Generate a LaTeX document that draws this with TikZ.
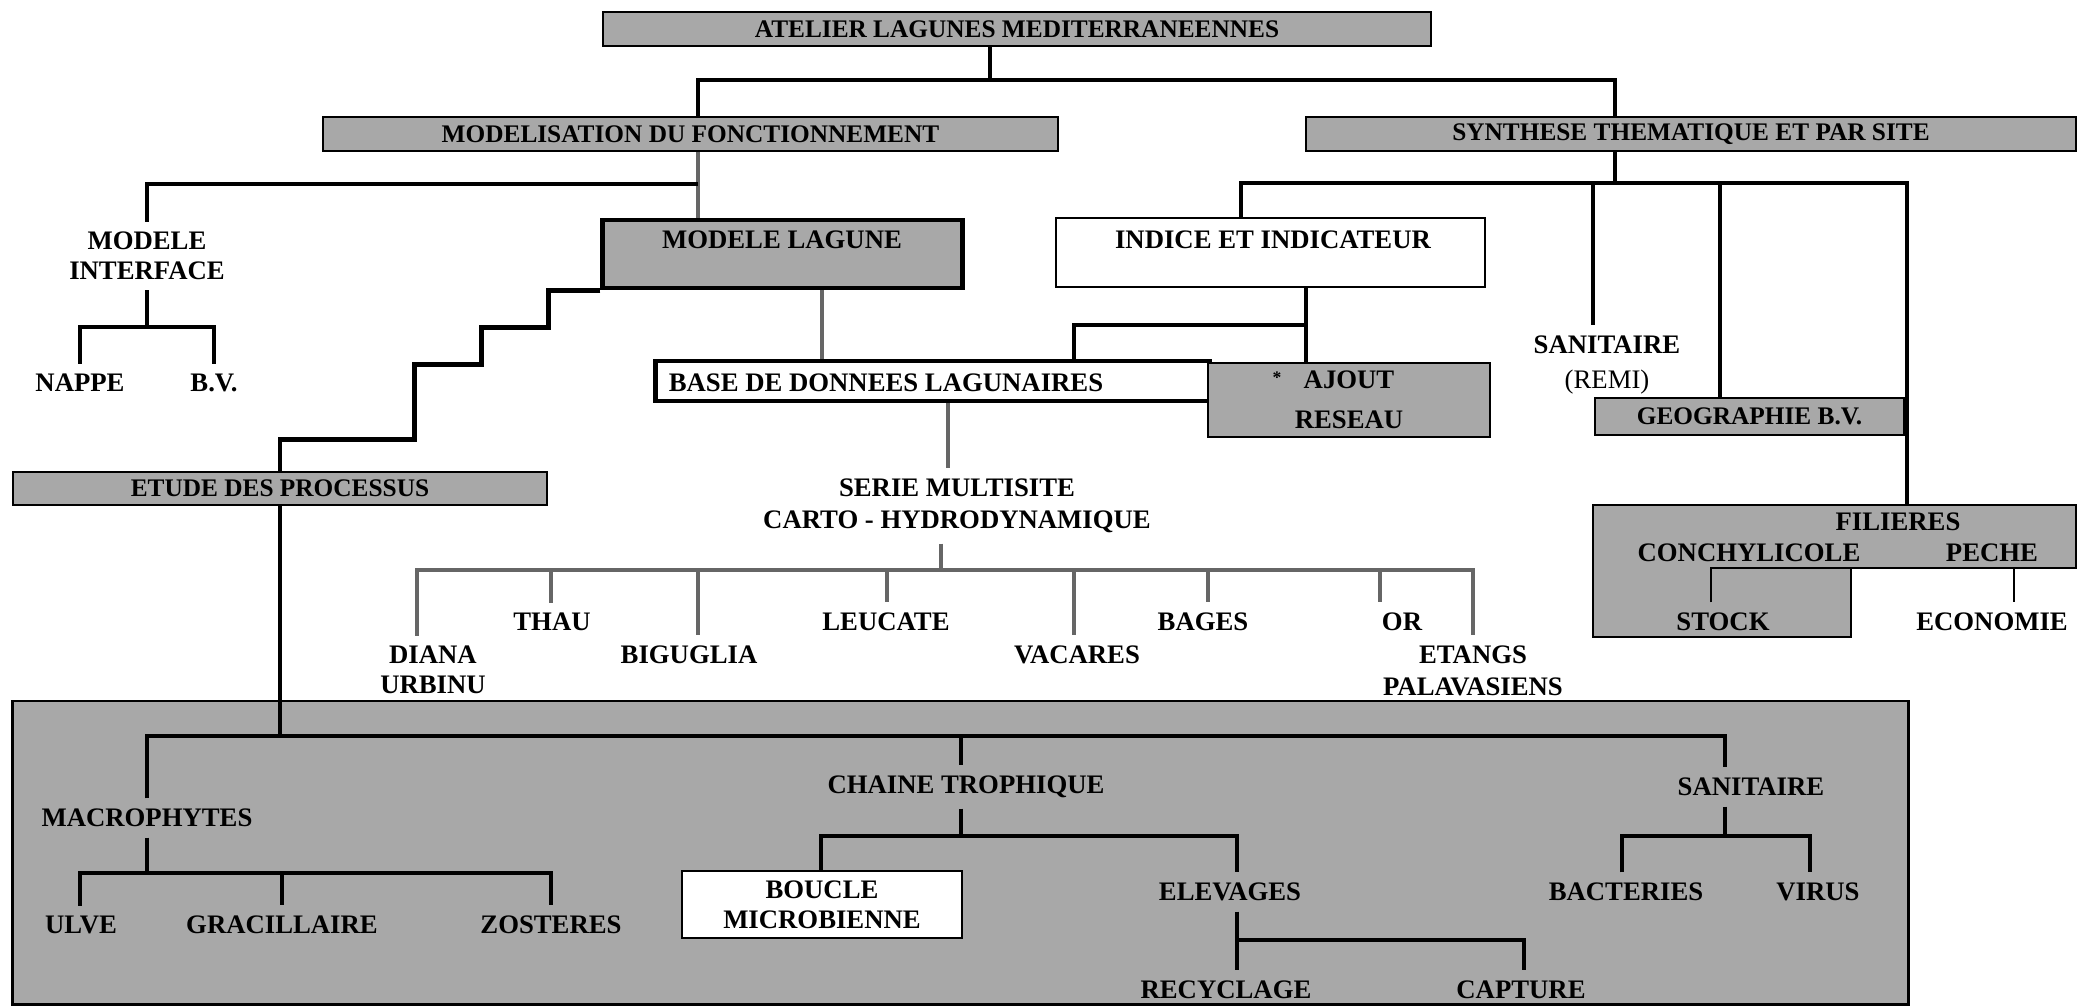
\documentclass[tikz,border=0pt]{standalone}
\usepackage{fontspec}
\setmainfont{Liberation Serif}
\definecolor{shd}{gray}{0.66}
\tikzset{
  hdr/.style={draw=black, line width=0.6pt, fill=shd, inner sep=0pt, font=\fontsize{7.2}{8.5}\selectfont\bfseries},
  boxx/.style={draw=black, line width=0.6pt, inner sep=0pt, align=center, font=\fontsize{7.6}{8.5}\selectfont\bfseries},
  lbl/.style={font=\fontsize{7.6}{8.5}\selectfont\bfseries, align=center, inner sep=2.8pt},
  conn/.style={line width=1.3pt},
  half/.style={line width=1.3pt, draw=black!60},
  thinl/.style={line width=0.5pt},
}
\begin{document}
\begin{tikzpicture}[x=0.01cm,y=-0.01cm]
\useasboundingbox (0,0) rectangle (2078,1006);

% big shaded region
\node[draw=black, line width=0.8pt, fill=shd, minimum width=18.95cm, minimum height=3.03cm, inner sep=0pt] (region) at (960.5,852.5) {};

% header boxes
\node[hdr, minimum width=8.28cm, minimum height=0.34cm] (atelier) at (1017,29) {ATELIER LAGUNES MEDITERRANEENNES};
\node[hdr, minimum width=7.35cm, minimum height=0.34cm] (modelisation) at (690.5,134) {MODELISATION DU FONCTIONNEMENT};
\node[hdr, minimum width=7.70cm, minimum height=0.34cm] (synthese) at (1691,134) {SYNTHESE THEMATIQUE ET PAR SITE};
\node[hdr, minimum width=5.34cm, minimum height=0.33cm] (etude) at (280,488.5) {ETUDE DES PROCESSUS};
\node[hdr, minimum width=3.09cm, minimum height=0.37cm] (geo) at (1749.5,416.5) {GEOGRAPHIE B.V.};

% boxes
\node[boxx, fill=shd, line width=1.4pt, minimum width=3.59cm, minimum height=0.68cm] (modlag) at (782.5,254) {};
\node[lbl] (modlagt) at (782,240) {MODELE LAGUNE};
\node[boxx, fill=white, minimum width=4.29cm, minimum height=0.69cm] (indice) at (1270.5,252.5) {};
\node[lbl] (indicet) at (1273,240) {INDICE ET INDICATEUR};
\node[boxx, fill=white, line width=1.4pt, minimum width=5.53cm, minimum height=0.40cm] (base) at (932.5,381) {};
\node[lbl] (baset) at (886,383) {BASE DE DONNEES LAGUNAIRES};
\node[boxx, fill=shd, minimum width=2.82cm, minimum height=0.74cm] (ajout) at (1349,400) {AJOUT\\[2.8pt]RESEAU};
\node[font=\fontsize{5}{5}\selectfont\bfseries, inner sep=0pt] (star) at (1277,378) {*};
\node[boxx, fill=white, minimum width=2.80cm, minimum height=0.67cm] (boucle) at (822,904.5) {BOUCLE\\MICROBIENNE};

% filieres shape
\filldraw[fill=shd, line width=0.6pt] (1593,505) -- (2076,505) -- (2076,568) -- (1851,568) -- (1851,637) -- (1593,637) -- cycle;
\coordinate (filtop) at (1907,505);

% labels
\node[lbl] (interface) at (147,256) {MODELE\\INTERFACE};
\node[lbl] (nappe) at (80,383) {NAPPE};
\node[lbl] (bv) at (214,383) {B.V.};
\node[lbl] (sanitaire) at (1607,365) {SANITAIRE\\[1.7pt]{\mdseries (REMI)}};
\node[lbl] (serie) at (957,506) {SERIE MULTISITE\\[0.6pt]CARTO - HYDRODYNAMIQUE};
\node[lbl] (diana) at (433,670) {DIANA\\URBINU};
\node[lbl] (thau) at (552,622) {THAU};
\node[lbl] (biguglia) at (689,655) {BIGUGLIA};
\node[lbl] (leucate) at (886,622) {LEUCATE};
\node[lbl] (vacares) at (1077,655) {VACARES};
\node[lbl] (bages) at (1203,622) {BAGES};
\node[lbl] (orx) at (1402,622) {OR};
\node[lbl] (etangs) at (1473,671) {ETANGS\\[0.6pt]PALAVASIENS};
\node[lbl] (filieres) at (1898,522) {FILIERES};
\node[lbl] (conchy) at (1749,553) {CONCHYLICOLE};
\node[lbl] (peche) at (1992,553) {PECHE};
\node[lbl] (stock) at (1723,622) {STOCK};
\node[lbl] (economie) at (1992,622) {ECONOMIE};
\node[lbl] (macro) at (147,818) {MACROPHYTES};
\node[lbl] (ulve) at (81,925) {ULVE};
\node[lbl] (gracil) at (282,925) {GRACILLAIRE};
\node[lbl] (zost) at (551,925) {ZOSTERES};
\node[lbl] (chaine) at (966,787) {CHAINE TROPHIQUE};
\node[lbl] (elev) at (1230,892) {ELEVAGES};
\node[lbl] (recyc) at (1226,990) {RECYCLAGE};
\node[lbl] (capture) at (1521,990) {CAPTURE};
\node[lbl] (sanit2) at (1751,787) {SANITAIRE};
\node[lbl] (bact) at (1626,892) {BACTERIES};
\node[lbl] (virus) at (1818,892) {VIRUS};

% top level
\coordinate (b1M) at (990,80); \coordinate (b1L) at (698,80); \coordinate (b1R) at (1615,80);
\draw[conn] (atelier.south -| b1M) -- (b1M);
\draw[conn] (modelisation.north -| b1L) -- (b1L) -- (b1R) -- (synthese.north -| b1R);

% modelisation branch
\coordinate (b2R) at (698,184); \coordinate (b2L) at (147,184);
\draw[half] (modelisation.south -| b2R) -- (modlag.north -| b2R);
\draw[conn] (b2R) -- (b2L) -- (interface.north);
\coordinate (b3L) at (80,327); \coordinate (b3R) at (214,327);
\draw[conn] (interface.south) -- (interface.south |- b3L);
\draw[conn] (nappe.north) -- (b3L) -- (b3R) -- (bv.north);

% staircase
\draw[conn] (modlag.south west) -- ++(-52,0) -- ++(0,37) -- ++(-67,0) -- ++(0,37) -- ++(-67,0) -- ++(0,75) -| (etude.north);

\coordinate (s1) at (822,300);
\draw[half] (modlag.south -| s1) -- (base.north -| s1);

% synthese branch
\coordinate (b4M) at (1615,183); \coordinate (b4L) at (1241,183); \coordinate (b4R) at (1907,183);
\coordinate (b4S) at (1593,183); \coordinate (b4G) at (1720,183);
\draw[conn] (synthese.south -| b4M) -- (b4M);
\draw[conn] (indice.north -| b4L) -- (b4L) -- (b4R) -- (filtop);
\draw[conn] (b4S) -- (sanitaire.north -| b4S);
\draw[conn] (b4G) -- (geo.north -| b4G);

\coordinate (b5L) at (1074,325); \coordinate (b5R) at (1306,325);
\draw[conn] (indice.south -| b5R) -- (b5R) -- (b5L) -- (base.north -| b5L);
\draw[conn] (b5R) -- (ajout.north -| b5R);

% series
\coordinate (s2) at (948,420);
\draw[half] (base.south -| s2) -- (serie.north -| s2);
\coordinate (b6M) at (941,570); \coordinate (b6L) at (417,570); \coordinate (b6R) at (1473,570);
\draw[half] (serie.south -| b6M) -- (b6M);
\draw[half] (diana.north -| b6L) -- (b6L) -- (b6R) -- (etangs.north -| b6R);
\foreach \n/\x in {thau/551, biguglia/698, leucate/887, vacares/1074, bages/1208, orx/1380}
  \draw[half] (\x,570) -- (\n.north -| \x,570);

% filieres internal
\coordinate (fc) at (1711,568); \coordinate (fe) at (1851,568);
\draw[thinl] (stock.north -| fc) -- (fc) -- (fe);
\coordinate (pe) at (2014,568);
\draw[thinl] (pe) -- (economie.north -| pe);

% processes region
\coordinate (b7L) at (147,736); \coordinate (b7R) at (1725,736); \coordinate (b7M) at (961,736);
\draw[conn] (etude.south) -- (etude.south |- b7L);
\draw[conn] (macro.north) -- (b7L) -- (b7R) -- (sanit2.north -| b7R);
\draw[conn] (b7M) -- (chaine.north -| b7M);

\coordinate (b8L) at (80,873); \coordinate (b8R) at (551,873);
\draw[conn] (macro.south) -- (macro.south |- b8L);
\draw[conn] (ulve.north -| b8L) -- (b8L) -- (b8R) -- (zost.north -| b8R);
\draw[conn] (gracil.north |- b8L) -- (gracil.north);

\coordinate (b9L) at (821,836); \coordinate (b9R) at (1237,836); \coordinate (b9M) at (961,836);
\draw[conn] (chaine.south -| b9M) -- (b9M);
\draw[conn] (boucle.north -| b9L) -- (b9L) -- (b9R) -- (elev.north -| b9R);

\coordinate (b10L) at (1237,940); \coordinate (b10R) at (1524,940);
\draw[conn] (elev.south -| b10L) -- (recyc.north -| b10L);
\draw[conn] (b10L) -- (b10R) -- (capture.north -| b10R);

\coordinate (b11L) at (1622,836); \coordinate (b11R) at (1810,836); \coordinate (b11M) at (1725,836);
\draw[conn] (sanit2.south -| b11M) -- (b11M);
\draw[conn] (bact.north -| b11L) -- (b11L) -- (b11R) -- (virus.north -| b11R);
\end{tikzpicture}
\end{document}
